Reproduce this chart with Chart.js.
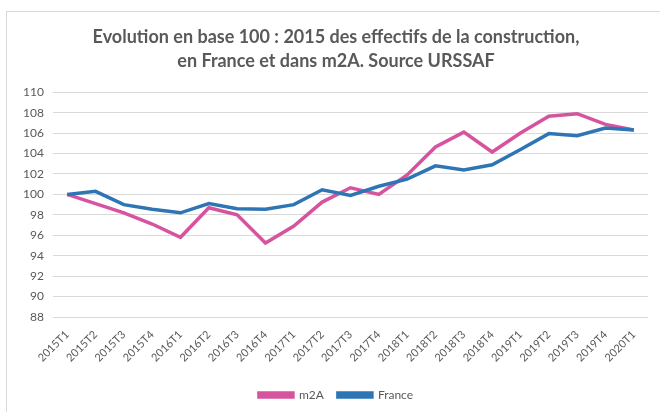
<!DOCTYPE html>
<html>
<head>
<meta charset="utf-8">
<script src="https://cdn.jsdelivr.net/npm/chart.js@4/dist/chart.umd.min.js"></script>
<style>
  html, body { margin: 0; padding: 0; background: #fff; }
  #wrap { position: relative; width: 660px; height: 412px; }
  #frame {
    position: absolute; left: 6px; top: 11px; right: 0; bottom: 0;
    border-left: 1px solid #d9d9d9; border-top: 1px solid #d9d9d9;
  }
  canvas { position: absolute; left: 0; top: 0; }
</style>
</head>
<body>
<div id="wrap">
  <div id="frame"></div>
  <canvas id="myChart" width="660" height="412"></canvas>
</div>
<script>
// trimestres
const quarters = [
  "2015T1", "2015T2", "2015T3", "2015T4",
  "2016T1", "2016T2", "2016T3", "2016T4",
  "2017T1", "2017T2", "2017T3", "2017T4",
  "2018T1", "2018T2", "2018T3", "2018T4",
  "2019T1", "2019T2", "2019T3", "2019T4",
  "2020T1"
];

// base 100 = 2015T1
const m2A = [
  100, 99.1, 98.2, 97.1,
  95.8, 98.7, 98.0, 95.25,
  96.9, 99.25, 100.65, 100.0,
  101.9, 104.65, 106.1, 104.15,
  106.0, 107.65, 107.9, 106.85,
  106.3
];
const france = [
  100, 100.3, 99.0, 98.55,
  98.2, 99.1, 98.6, 98.55,
  99.0, 100.45, 99.9, 100.8,
  101.5, 102.8, 102.4, 102.9,
  104.4, 105.95, 105.75, 106.5,
  106.3
];

const titleLines = [
  "Evolution en base 100 : 2015 des effectifs de la construction,",
  "en France et dans m2A. Source URSSAF"
];

const pink = "#d6549f";
const blue = "#2e75b6";
const grey = "#595959";

const ctx = document.getElementById("myChart").getContext("2d");
const chart = new Chart(ctx, {
  type: "line",
  data: {
    labels: quarters,
    datasets: [
      {
        label: "m2A",
        data: m2A,
        borderColor: pink,
        backgroundColor: pink,
        borderWidth: 3.5,
        pointRadius: 0,
        fill: false,
        order: 1
      },
      {
        label: "France",
        data: france,
        borderColor: blue,
        backgroundColor: blue,
        borderWidth: 3.5,
        pointRadius: 0,
        fill: false,
        order: 0
      }
    ]
  },
  options: {
    responsive: false,
    animation: false,
    // left padding keeps the title and legend centred like the original
    layout: { padding: { left: 24, right: 12, bottom: 1 } },
    plugins: {
      title: {
        display: true,
        text: titleLines,
        color: grey,
        font: { family: "Lato", size: 18, weight: "bold", lineHeight: 1.34 },
        padding: { top: 25, bottom: 19 }
      },
      legend: {
        position: "bottom",
        labels: {
          color: grey,
          font: { family: "Lato", size: 12 },
          boxWidth: 34,
          boxHeight: 4,
          padding: 14,
          sort: (a, b) => a.datasetIndex - b.datasetIndex
        }
      },
      tooltip: { enabled: false }
    },
    scales: {
      x: {
        offset: true,
        grid: { display: false },
        border: { display: false },
        ticks: {
          color: grey,
          font: { family: "Lato", size: 11 },
          minRotation: 45,
          maxRotation: 45,
          autoSkip: false
        },
        afterFit: (scale) => { scale.height = 58; }
      },
      y: {
        min: 88,
        max: 110,
        grid: { color: "#d9d9d9", lineWidth: 1, drawTicks: false },
        border: { display: false },
        ticks: {
          stepSize: 2,
          color: grey,
          font: { family: "Lato", size: 12 },
          padding: 9
        },
        afterFit: (scale) => { scale.width = 29; }
      }
    }
  }
});
</script>
</body>
</html>
